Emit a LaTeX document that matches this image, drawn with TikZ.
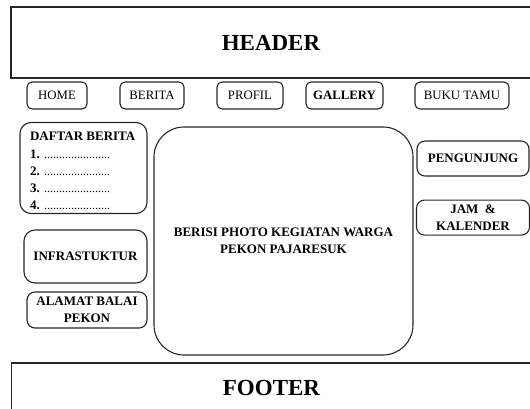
\documentclass[tikz,border=0pt]{standalone}
\usepackage{fontspec}
\setmainfont{Liberation Serif}
\usepackage{tikz}
\usetikzlibrary{positioning}

\newcommand{\dotrow}{{\mdseries\fontsize{12}{17}\selectfont ......................}}

\begin{document}
\begin{tikzpicture}[
  x=1pt,y=-1pt,
  line width=1.1pt,
  font=\fontsize{13}{16.5}\selectfont\bfseries,
  every node/.style={align=center,inner sep=0pt},
  band/.style={draw=black!85,minimum width=520pt,
               font=\fontsize{23}{27}\selectfont\bfseries},
  navbtn/.style={draw=black!85,rounded corners=5pt,minimum height=27pt,
               font=\fontsize{12.8}{15}\selectfont\mdseries},
  panel/.style={draw=black!85,rounded corners=11pt},
  photo/.style={draw=black!85,rounded corners=30pt,
               minimum width=259pt,minimum height=228pt}
]
\clip (0,0) rectangle (530,408);

% HEADER + menu bar
\node[band,minimum height=71pt] (hdr) at (271,42.5) {HEADER};
\node[navbtn,minimum width=60pt] (m1) at (57,95.5)  {HOME};
\node[navbtn,minimum width=64pt] (m2) at (152,95.5) {BERITA};
\node[navbtn,minimum width=66pt] (m3) at (250,95.5) {PROFIL};
\node[navbtn,minimum width=77pt,font=\fontsize{12.8}{15}\selectfont\bfseries]
      (m4) at (344.5,95.5) {GALLERY};
\node[navbtn,minimum width=94pt] (m5) at (462,95.5) {BUKU TAMU};

% LEFT: side menu
\node[panel,minimum width=127pt,minimum height=91pt] (news) at (83.5,168) {};
\node[align=left,font=\fontsize{13}{17}\selectfont\bfseries]
      (newslist) [below right=9.5pt and 10pt of news.north west]
      {DAFTAR BERITA\\[1pt] 1. \dotrow\\ 2. \dotrow\\ 3. \dotrow\\ 4. \dotrow};
\node[panel,minimum width=123pt,minimum height=53pt] (infra) at (85.5,256.5)
      {INFRASTUKTUR};
\node[panel,rounded corners=8pt,minimum width=120pt,minimum height=36pt]
      (addr) at (87,310) {ALAMAT BALAI\\PEKON};

% CENTER: photo area
\node[photo] (pic) at (283.5,241)
      {BERISI PHOTO KEGIATAN WARGA\\PEKON PAJARESUK};

% RIGHT: widgets
\node[panel,rounded corners=8pt,minimum width=112pt,minimum height=35pt]
      (visit) at (473,158.5) {PENGUNJUNG};
\node[panel,rounded corners=8pt,minimum width=113pt,minimum height=35pt]
      (clock) [below=23pt of visit] {JAM \ \&\\KALENDER};

% FOOTER
\node[band,minimum height=50pt] (ftr) at (271.5,388) {FOOTER};
\end{tikzpicture}
\end{document}
